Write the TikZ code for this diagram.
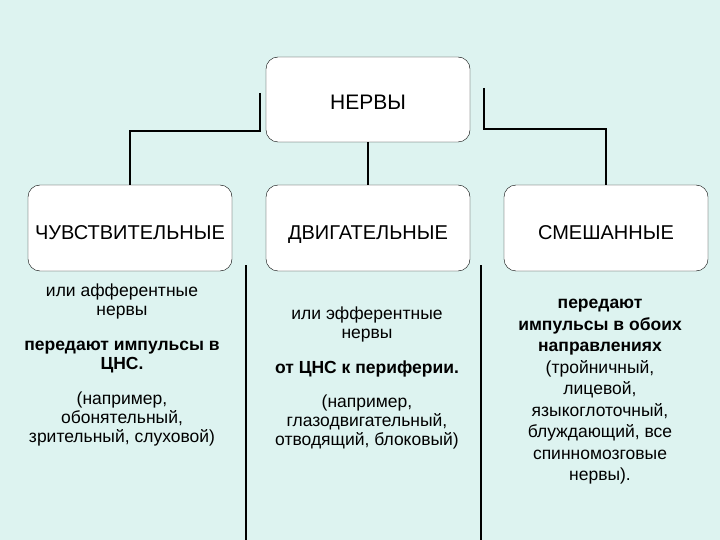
\documentclass[tikz,border=0pt]{standalone}
\usepackage{fontspec}
\setmainfont{Liberation Sans}
\usetikzlibrary{positioning}
\definecolor{bgcyan}{RGB}{221,243,240}

\tikzset{
	nervebox/.style={draw, fill=white, rounded corners=12pt, minimum width=204pt, minimum height=86pt, inner sep=0pt,
		text height=22.3pt, text depth=0pt, font=\fontsize{20}{24}\selectfont},
	link/.style={line width=2pt},
	divider/.style={line width=1.2pt},
	note/.style={align=center, inner sep=0pt, font=\fontsize{17.5}{19}\selectfont}
}

\begin{document}
\begin{tikzpicture}[x=1pt, y=-1pt]

	\fill [bgcyan] (0,0) rectangle (720,540);
	\useasboundingbox (0,0) rectangle (720,540);

	% boxes
	\node [nervebox, minimum height=85pt, text height=20.5pt, font=\fontsize{21}{25}\selectfont] (nervy) at (368,99.5) {НЕРВЫ};
	\node [nervebox] (sens) at (130,228) {ЧУВСТВИТЕЛЬНЫЕ};
	\node [nervebox] (motor) at (368,228) {ДВИГАТЕЛЬНЫЕ};
	\node [nervebox] (mixed) at (606,228) {СМЕШАННЫЕ};

	% connectors
	\coordinate (lstart) at (260,93);
	\coordinate (lbend) at (130,131);
	\draw [link] (lstart) |- (lbend) -- (sens.north);

	\draw [link] (nervy) -- (motor);

	\coordinate (rstart) at (484,88);
	\coordinate (rbend) at (606,129);
	\draw [link] (rstart) |- (rbend) -- (mixed.north);

	% dividers
	\coordinate (ltop) at (246,265);
	\coordinate (lbot) at (246,540);
	\draw [divider] (ltop) -- (lbot);
	\coordinate (rtop) at (481,265);
	\coordinate (rbot) at (481,540);
	\draw [divider] (rtop) -- (rbot);

	% notes
	\node [note] (sensnote) at (122,365) {или афферентные\\ нервы\\[16pt]
		\textbf{передают импульсы в}\\ \textbf{ЦНС.}\\[16pt]
		(например,\\ обонятельный,\\ зрительный, слуховой)};
	\node [note] (motornote) at (367,378) {или эфферентные\\ нервы\\[16pt]
		\textbf{от ЦНС к периферии.}\\[15pt]
		(например,\\ глазодвигательный,\\ отводящий, блоковый)};
	\node [note, font=\fontsize{17.5}{21.5}\selectfont] (mixednote) at (600,392) {\textbf{передают}\\
		\textbf{импульсы в обоих}\\ \textbf{направлениях}\\
		(тройничный,\\ лицевой,\\ языкоглоточный,\\ блуждающий, все\\ спинномозговые\\ нервы).};

\end{tikzpicture}
\end{document}
